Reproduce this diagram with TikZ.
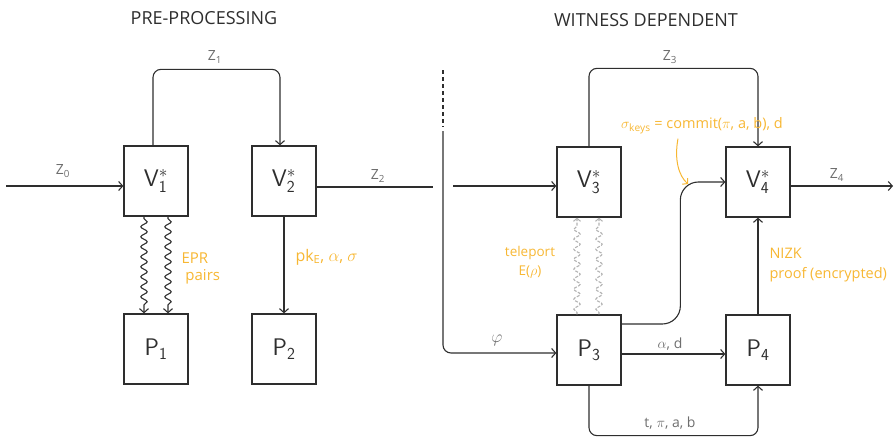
\documentclass[tikz,border=0pt]{standalone}
\usepackage{fontspec}
\setmainfont{Open Sans}
\usetikzlibrary{arrows.meta,decorations.pathmorphing,calc}
\definecolor{ink}{HTML}{2E2E2E}
\definecolor{lab}{HTML}{6E6E6E}
\definecolor{org}{HTML}{F7B733}
\begin{document}
\begin{tikzpicture}[x=1pt,y=-1pt,
  box/.style={draw=ink, line width=1.3pt, minimum width=64pt, minimum height=70pt, inner sep=0pt, text=ink, font=\fontsize{24}{26}\selectfont},
  conn/.style={draw=ink, line width=1.1pt},
  arr/.style={conn, -{Straight Barb[length=4pt,width=9pt,line width=1.1pt]}},
  zl/.style={text=lab, font=\fontsize{14}{16}\selectfont},
  ol/.style={text=org, font=\fontsize{14.5}{18}\selectfont, align=left},
  wave/.style={decorate, decoration={snake, amplitude=3.2pt, segment length=10pt, post length=5pt, pre length=2pt}},
  ttl/.style={text=ink, font=\fontsize{18}{20}\selectfont}
]
\useasboundingbox (0,0) rectangle (895,439);

% titles
\node[ttl] (t1) at (204,18) {PRE-PROCESSING};
\node[ttl] (t2) at (646,20) {WITNESS DEPENDENT};

% boxes
\node[box] (V1) at (156,181) {$\mathsf{V}^{*}_{\mathsf{1}}$};
\node[box] (V2) at (284,181) {$\mathsf{V}^{*}_{\mathsf{2}}$};
\node[box] (P1) at (156,349) {$\mathsf{P}_{\mathsf{1}}$};
\node[box] (P2) at (284,349) {$\mathsf{P}_{\mathsf{2}}$};
\node[box] (V3) at (589,182) {$\mathsf{V}^{*}_{\mathsf{3}}$};
\node[box] (V4) at (758,182) {$\mathsf{V}^{*}_{\mathsf{4}}$};
\node[box] (P3) at (589,350) {$\mathsf{P}_{\mathsf{3}}$};
\node[box] (P4) at (758,350) {$\mathsf{P}_{\mathsf{4}}$};

% left part
\coordinate (in0) at (6,186);
\draw[arr] (in0) -- (in0 -| V1.west);
\node[zl] (z0) at (63,171) {Z\textsubscript{0}};

\draw[arr, rounded corners=8] ($(V1.north)+(-3,0)$) |- ($(V2.north)+(-4,-76)$) -- ($(V2.north)+(-4,0)$);
\node[zl] (z1) at (215,57) {Z\textsubscript{1}};

\coordinate (z2end) at (433,187);
\draw[conn] (V2.east |- z2end) -- (z2end);
\node[zl] (z2) at (378,176) {Z\textsubscript{2}};

\draw[arr, wave] ($(V1.south)+(-12,0)$) -- ($(P1.north)+(-12,0)$);
\draw[arr, wave] ($(V1.south)+(12,0)$) -- ($(P1.north)+(12,0)$);
\node[ol, anchor=west, font=\fontsize{15}{17}\selectfont] (epr) at (178,268) {EPR\\\ pairs};

\draw[arr] (V2.south) -- (P2.north);
\node[ol, anchor=west, font=\fontsize{16}{18}\selectfont] (pk) at (292,257) {pk\textsubscript{E}, $\alpha$, $\sigma$};

% divider
\coordinate (dtop) at (443,70);
\coordinate (dmid) at (443,127);
\draw[conn, dash pattern=on 4pt off 3pt] (dtop) -- (dmid);
\coordinate (dstart) at (443,131);
\draw[arr, rounded corners=8] (dstart) |- ($(P3.west)+(0,3)$);
\node[zl, font=\fontsize{17}{18}\selectfont] (phi) at (497,340) {$\varphi$};

% right part
\coordinate (in3) at (453,186);
\draw[arr] (in3) -- (in3 -| V3.west);

\draw[arr, rounded corners=8] (V3.north) |- ($(V4.north)+(0,-78)$) -- (V4.north);
\node[zl] (z3) at (670,57) {Z\textsubscript{3}};

\coordinate (out4) at (893,186);
\draw[arr] (V4.east |- out4) -- (out4);
\node[zl] (z4) at (837,175) {Z\textsubscript{4}};

\draw[gray!60, line width=1.1pt, dash pattern=on 3pt off 1.5pt, wave, -{Straight Barb[length=3pt,width=7pt,line width=1pt]}] ($(P3.north)+(-12,0)$) -- ($(V3.south)+(-12,0)$);
\draw[gray!60, line width=1.1pt, dash pattern=on 3pt off 1.5pt, wave, -{Straight Barb[length=3pt,width=7pt,line width=1pt]}] ($(P3.north)+(10,0)$) -- ($(V3.south)+(10,0)$);
\node[ol, align=center, font=\fontsize{13.5}{19}\selectfont] (tel) at (530,262) {teleport\\E($\rho$)};

\draw[arr, rounded corners=18] ($(P3.east)+(0,-26)$) -| ($(V4.west)+(-45,0)$) -- (V4.west);

\draw[arr] ($(P3.east)+(0,4)$) -- ($(P4.west)+(0,4)$);
\node[zl] (ad) at (670,344) {$\alpha$, d};

\draw[arr, rounded corners=8] (P3.south) |- ($(P4.south)+(0,50)$) -- (P4.south);
\node[zl] (tpab) at (670,423) {t, $\pi$, a, b};

\draw[arr] (P4.north) -- (V4.south);
\node[ol, anchor=west] (nizk) at (766,265) {NIZK\\[2pt]proof (encrypted)};

\node[ol] (sig) at (702,126) {$\sigma_{\mathrm{keys}}$ = commit($\pi$, a, b), d};
\coordinate (sigend) at (688,184);
\draw[org, line width=1pt, -{Straight Barb[length=3.5pt,width=8pt,line width=1pt]}] ($(sig.south)+(-24,1)$) .. controls (674,160) and (679,176) .. (sigend);
\end{tikzpicture}
\end{document}
